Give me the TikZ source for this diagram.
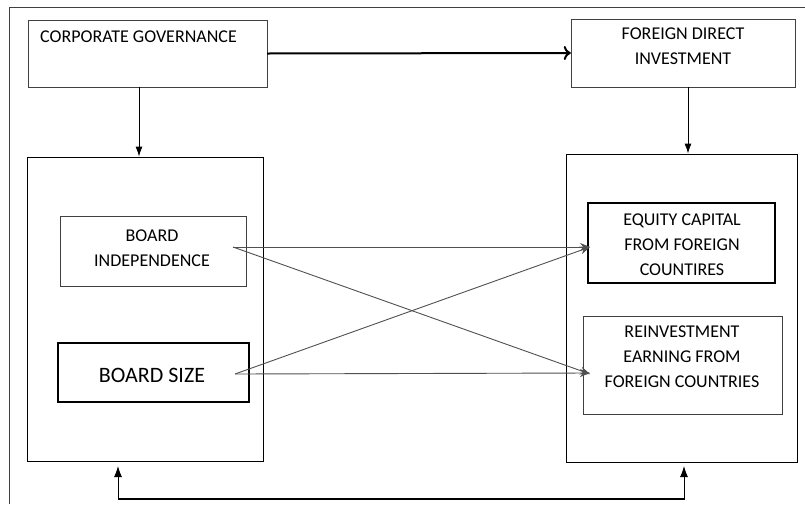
\documentclass[tikz,border=0pt]{standalone}
\usepackage{fontspec}
\setmainfont{Carlito}
\usetikzlibrary{arrows.meta}
\definecolor{edgegray}{HTML}{404040}
\definecolor{linegray}{HTML}{505050}
\tikzset{
	box/.style 2 args={rectangle,draw,inner sep=0pt,minimum width=#1,minimum height=#2},
	txt/.style={inner sep=0pt,align=center,font=\fontsize{18}{25}\selectfont},
	darr/.style={draw=linegray,line width=0.9pt,-{Stealth[length=10pt,width=8pt]}},
	varr/.style={line width=0.9pt,-{Latex[length=10pt,width=7pt]}}
}
\begin{document}
\begin{tikzpicture}[x=1pt,y=-1pt]%[scale=1.5]
	\useasboundingbox (0,0) rectangle (805,504);
	\draw [edgegray,line width=1pt] (9,504) -- (9,7) -- (805,7);

	\node [box={239}{67},draw=edgegray] (cg) at (147.5,53.5) {};
	\node [txt,anchor=west] (cgtxt) at (40,37) {CORPORATE GOVERNANCE};
	\node [box={224}{68},draw=edgegray] (fdi) at (683,53) {};
	\node [txt] (fditxt) at (683,46.5) {FOREIGN DIRECT\\INVESTMENT};

	\node [box={236}{304},line width=0.9pt] (lbox) at (145,309) {};
	\node [box={231}{308},line width=0.9pt] (rbox) at (681.5,308) {};

	\node [box={186}{70},draw=edgegray] (bi) at (153,251) {};
	\node [txt] (bitxt) at (152,248) {BOARD\\INDEPENDENCE};
	\node [box={191}{59},line width=1.8pt] (bs) at (153.5,372.5) {};
	\node [txt,font=\fontsize{22}{26}\selectfont] (bstxt) at (152,375) {BOARD SIZE};

	\node [box={187}{80},line width=1.8pt] (ec) at (681.5,243) {};
	\node [txt] (ectxt) at (682,245) {EQUITY CAPITAL\\FROM FOREIGN\\COUNTIRES};
	\node [box={199}{98},draw=edgegray] (re) at (682.5,365) {};
	\node [txt] (retxt) at (682,357) {REINVESTMENT\\EARNING FROM\\FOREIGN COUNTRIES};

	\draw [line width=2pt,-{To[length=7pt,width=14pt]}] (cg.east) -- (fdi.west);
	\draw [varr] ([xshift=-8.5pt]cg.south) -- ([xshift=-8.5pt]cg.south |- lbox.north);
	\draw [varr] ([xshift=5pt]fdi.south) -- ([xshift=5pt]fdi.south |- rbox.north);

	\coordinate (biout) at (233,247);
	\coordinate (bsout) at (235,374);
	\coordinate (ecin) at (590,247);
	\coordinate (rein) at (590,374);
	\draw [darr] (biout) -- (ecin);
	\draw [darr] (biout) -- (rein);
	\draw [darr] (bsout) -- (ecin);
	\draw [darr] (bsout) -- ([yshift=1pt]rein);

	\coordinate (lfoot) at (118,466);
	\coordinate (rfoot) at (684,466);
	\draw [line width=0.9pt,{Latex[length=11pt,width=8pt]}-{Latex[length=11pt,width=8pt]}] (lfoot) -- (118,499) -| (rfoot);
	\draw [line width=2pt] (118,499) -- (684,499);
\end{tikzpicture}
\end{document}
